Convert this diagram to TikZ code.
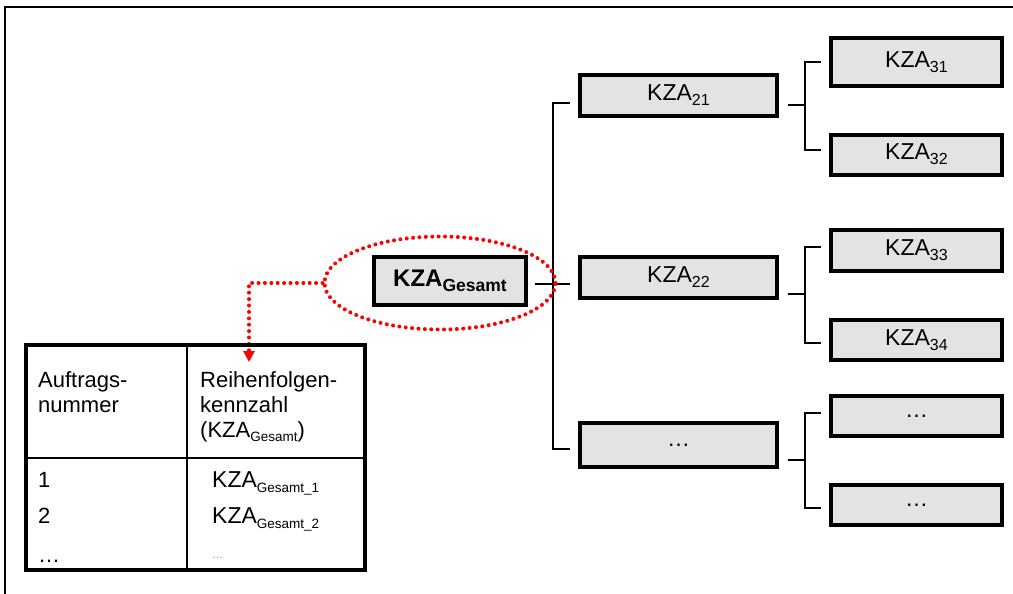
\documentclass[tikz,border=0pt]{standalone}
\usepackage{fontspec}
\setmainfont{Liberation Sans}
\usetikzlibrary{shapes.geometric, arrows.meta}

\definecolor{boxfill}{RGB}{229,226,230}

% KZA with a lowered index in its own size
\newcommand{\kzaidx}[2]{KZA\raisebox{-0.22em}{\fontsize{#1}{#1}\selectfont #2}}

\tikzstyle{levelbox} = [
    rectangle,
    fill=boxfill,
    draw=black,
    line width=4pt,
    inner sep=0pt,
    font=\fontsize{23}{27}\selectfont
]
\tikzstyle{midbox} = [levelbox, minimum width=197pt, minimum height=41pt]
\tikzstyle{leafbox} = [levelbox, minimum width=171pt, minimum height=40pt]
\tikzstyle{branch} = [line width=2.5pt]
\tikzstyle{reddots} = [
    red,
    line width=4pt,
    line cap=round,
    dash pattern=on 0pt off 6.4pt
]
\tikzstyle{pointer} = [reddots, -{Triangle[width=11pt,length=11pt]}]
\tikzstyle{cell} = [
    anchor=base west,
    inner sep=0pt,
    align=left,
    font=\fontsize{22}{25}\selectfont
]

\begin{document}
\begin{tikzpicture}[x=1pt, y=-1pt]

\useasboundingbox (0,0) rectangle (1013,594);

% frame, open to the right and bottom
\draw [line width=2pt] (5,594) -- (5,7) -- (1013,7);

\node (gesamt) [levelbox, line width=4.5pt, minimum width=152pt,
    minimum height=48pt, font=\bfseries\fontsize{24}{28}\selectfont]
    at (450,281) {\kzaidx{17.5}{Gesamt}};

\node (kza21) [midbox] at (678.5,95.5) {\kzaidx{16}{21}};
\node (kza22) [midbox] at (678.5,277.5) {\kzaidx{16}{22}};
\node (midmore) [midbox, minimum height=44pt] at (678.5,445) {…};

\node (kza31) [leafbox, minimum height=48pt] at (916.5,62) {\kzaidx{16}{31}};
\node (kza32) [leafbox] at (916.5,154.5) {\kzaidx{16}{32}};
\node (kza33) [leafbox, minimum height=41pt] at (916.5,250.5) {\kzaidx{16}{33}};
\node (kza34) [leafbox] at (916.5,340) {\kzaidx{16}{34}};
\node (leafmore1) [leafbox] at (916.5,416) {…};
\node (leafmore2) [leafbox] at (916.5,505) {…};

% junctions of the tree
\coordinate (trunk) at (553,284);
\coordinate (fork1) at (805,105);
\coordinate (fork2) at (805,294);
\coordinate (fork3) at (805,460);

\draw [branch] ([xshift=7pt]gesamt.east |- trunk) -- (trunk);
\draw [branch] ([xshift=-8pt,yshift=-7.5pt]kza21.west) -| (trunk)
    |- ([xshift=-8pt,yshift=-4pt]midmore.west);
\draw [branch] (trunk) -- ([xshift=-8pt]kza22.west |- trunk);

\draw [branch] ([xshift=9pt]kza21.east |- fork1) -- (fork1);
\draw [branch] ([xshift=-8pt]kza31.west) -| (fork1)
    |- ([xshift=-8pt,yshift=4.5pt]kza32.west);

\draw [branch] ([xshift=9pt]kza22.east |- fork2) -- (fork2);
\draw [branch] ([xshift=-8pt,yshift=3.5pt]kza33.west) -| (fork2)
    |- ([xshift=-8pt,yshift=-3pt]kza34.west);

\draw [branch] ([xshift=9pt]midmore.east |- fork3) -- (fork3);
\draw [branch] ([xshift=-8pt,yshift=3pt]leafmore1.west) -| (fork3)
    |- ([xshift=-8pt,yshift=-3pt]leafmore2.west);

% dotted ring and pointer into the table
\node (focus) [ellipse, reddots, draw, minimum width=231pt,
    minimum height=93pt, inner sep=0pt] at (440,283) {};
\coordinate (target) at (249,362);
\draw [pointer] (focus.west) -| (target);

% order table
\draw [line width=3.5pt] (26,345) rectangle (365,570);
\draw [line width=1.2pt] (26,458) -- (365,458);
\draw [line width=1.2pt] (187,345) -- (187,570);

% base of a multi-line cell is its last line
\node (numhead) [cell] at (38,412) {Auftrags-\\nummer};
\node (keyhead) [cell] at (200,437)
    {Reihenfolgen-\\kennzahl\\(\kzaidx{13.5}{Gesamt})};

\node (num1) [cell] at (38,487) {1};
\node (num2) [cell] at (38,523) {2};
\node (nummore) [cell] at (38,562) {…};

\node (key1) [cell, font=\fontsize{23}{27}\selectfont] at (212,487)
    {\kzaidx{13.5}{Gesamt\_1}};
\node (key2) [cell, font=\fontsize{23}{27}\selectfont] at (212,523)
    {\kzaidx{13.5}{Gesamt\_2}};
\node (keymore) [cell, gray, font=\fontsize{11}{13}\selectfont] at (212,558) {…};

\end{tikzpicture}
\end{document}
